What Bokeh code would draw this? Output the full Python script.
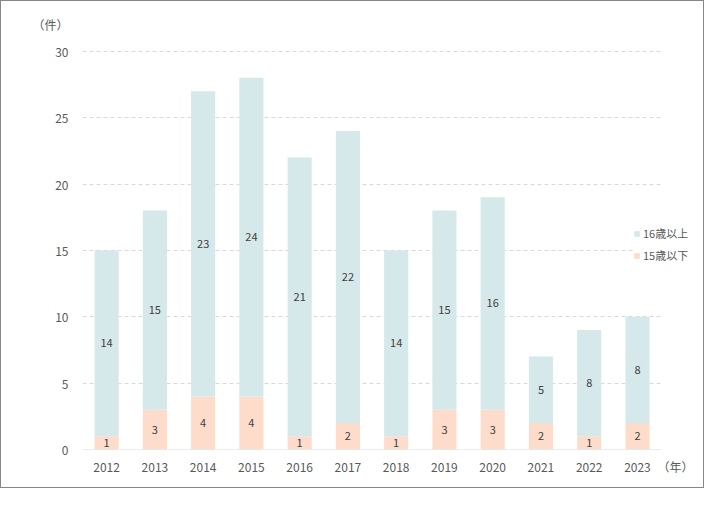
from bokeh.plotting import figure
from bokeh.models import (ColumnDataSource, LabelSet, Legend, LegendItem, FixedTicker,
                          Grid, Range1d)
from bokeh.core.properties import value
from bokeh.embed import file_html
from bokeh.resources import INLINE

years = ["2012", "2013", "2014", "2015", "2016", "2017", "2018", "2019", "2020", "2021", "2022", "2023"]
under15 = [1, 3, 4, 4, 1, 2, 1, 3, 3, 2, 1, 2]
over16 = [14, 15, 23, 24, 21, 22, 14, 15, 16, 5, 8, 8]
series_names = ["15歳以下", "16歳以上"]
y_ticks = [0, 5, 10, 15, 20, 25, 30]
y_unit = "（件）"
x_unit = "（年）"
colors = ["#FDDCCB", "#D5E8EA"]

FONT = "Noto Sans CJK JP"
TXT = "#595959"

n = len(years)
xi = list(range(n))
src = ColumnDataSource(dict(
    xi=xi,
    u=under15,
    o=over16,
    u_mid=[v / 2 for v in under15],
    o_mid=[a + b / 2 for a, b in zip(under15, over16)],
    u_txt=[str(v) for v in under15],
    o_txt=[str(v) for v in over16],
))

# unit-label positions (layout only)
X_UNIT_POS = n - 0.21
Y_UNIT_POS = 32.03

p = figure(x_range=Range1d(-0.5, n + 0.41), y_range=Range1d(-0.0001, 33.0),
           width=704, height=488, output_backend="svg", toolbar_location=None,
           min_border_left=81, min_border_right=0, min_border_top=10, min_border_bottom=40)
p.styles = {"border": "1px solid #878787"}

rs = p.vbar_stack(["u", "o"], x="xi", width=0.5, color=colors, source=src, line_color=None)

p.xgrid.grid_line_color = None
p.ygrid.ticker = FixedTicker(ticks=y_ticks[1:])
p.ygrid.grid_line_color = "#D9D9D9"
p.ygrid.grid_line_dash = "4 3"
base = Grid(dimension=1, ticker=FixedTicker(ticks=y_ticks[:1]),
            grid_line_color="#D9D9D9", level="glyph")
p.add_layout(base)
for g in (p.ygrid[0], base):
    try:
        g.cross_bounds = (-0.5, n - 0.5)
    except Exception:
        pass
p.outline_line_color = None

p.xaxis.ticker = FixedTicker(ticks=xi + [X_UNIT_POS])
xo = {i: y for i, y in zip(xi, years)}
xo[X_UNIT_POS] = x_unit
p.xaxis.major_label_overrides = xo
p.yaxis.ticker = FixedTicker(ticks=y_ticks + [Y_UNIT_POS])
p.yaxis.major_label_overrides = {Y_UNIT_POS: y_unit}

for ax in (p.xaxis[0], p.yaxis[0]):
    ax.major_tick_line_color = None
    ax.minor_tick_line_color = None
    ax.major_tick_out = 0
    ax.major_tick_in = 0
    ax.axis_line_color = None
    ax.major_label_text_font = FONT
    ax.major_label_text_color = TXT
    ax.major_label_text_font_size = "12px"
p.yaxis.major_label_standoff = 14
p.xaxis.major_label_standoff = 8

for ycol, tcol in (("u_mid", "u_txt"), ("o_mid", "o_txt")):
    p.add_layout(LabelSet(x="xi", y=ycol, text=tcol, source=src,
                          text_align="center", text_baseline="middle",
                          text_font=value(FONT), text_font_size="11px", text_color="#404040"))

legend = Legend(items=[LegendItem(label=series_names[1], renderers=[rs[1]]),
                       LegendItem(label=series_names[0], renderers=[rs[0]])],
                location=(551, 186), background_fill_color="white", background_fill_alpha=1,
                border_line_color=None, label_text_font=FONT, label_text_font_size="11px",
                label_text_color=TXT, glyph_width=7, glyph_height=7, label_height=15,
                spacing=6, padding=4, margin=0, label_standoff=3)
p.add_layout(legend)

open("out.html", "w").write(file_html(p, INLINE))
